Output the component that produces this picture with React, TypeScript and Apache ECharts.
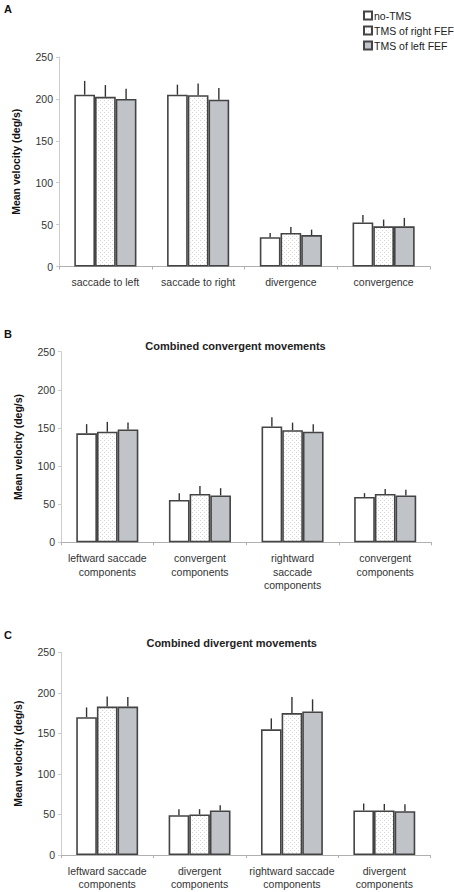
import React, { useEffect, useRef } from "react";
import * as echarts from "echarts";

const seriesNames = ["no-TMS", "TMS of right FEF", "TMS of left FEF"];

const categoriesA = ["saccade to left", "saccade to right", "divergence", "convergence"];
const noTmsA = [205, 205, 35, 52.5];
const rightFefA = [202.5, 204.5, 40, 48];
const leftFefA = [200, 199, 37.5, 48];
const noTmsErrA = [16.5, 12, 5, 9];
const rightFefErrA = [14, 14, 7, 8];
const leftFefErrA = [12, 14, 6.5, 10];

const categoriesB = ["leftward saccade\ncomponents", "convergent\ncomponents", "rightward\nsaccade\ncomponents", "convergent\ncomponents"];
const noTmsB = [143, 55.5, 152, 59.5];
const rightFefB = [145, 63.5, 147, 63.5];
const leftFefB = [148, 61.5, 145, 61.5];
const noTmsErrB = [12, 9, 12, 5];
const rightFefErrB = [13, 10.5, 10, 6.5];
const leftFefErrB = [9, 9.5, 10, 7.5];

const categoriesC = ["leftward saccade\ncomponents", "divergent\ncomponents", "rightward saccade\ncomponents", "divergent\ncomponents"];
const noTmsC = [170, 49, 155, 55];
const rightFefC = [183, 50, 175, 55];
const leftFefC = [183, 55, 177, 54];
const noTmsErrC = [12, 7.5, 13.5, 8.5];
const rightFefErrC = [12.5, 6.5, 20, 8];
const leftFefErrC = [12, 6.5, 15, 8.5];

const yTicks = { min: 0, max: 250, interval: 50 };
const yAxisName = "Mean velocity (deg/s)";
const panelTitles = ["", "Combined convergent movements", "Combined divergent movements"];
const panelLetters = ["A", "B", "C"];

const FONT = "'Liberation Sans', Arial, sans-serif";

export default function App() {
  const ref = useRef<HTMLDivElement>(null);
  useEffect(() => {
    if (!ref.current) return;
    const chart = echarts.init(ref.current, undefined, { renderer: "svg" });

    const cv = document.createElement("canvas");
    cv.width = 4;
    cv.height = 4;
    const ctx = cv.getContext("2d")!;
    ctx.fillStyle = "#ffffff";
    ctx.fillRect(0, 0, 4, 4);
    ctx.fillStyle = "#d6d6d6";
    ctx.fillRect(0, 0, 1, 1);
    ctx.fillRect(2, 2, 1, 1);
    const dotted: any = { image: cv, repeat: "repeat" };

    const fills = ["#ffffff", dotted, "#c0c3c8"];

    const panels = [
      { cats: categoriesA, vals: [noTmsA, rightFefA, leftFefA], errs: [noTmsErrA, rightFefErrA, leftFefErrA] },
      { cats: categoriesB, vals: [noTmsB, rightFefB, leftFefB], errs: [noTmsErrB, rightFefErrB, leftFefErrB] },
      { cats: categoriesC, vals: [noTmsC, rightFefC, leftFefC], errs: [noTmsErrC, rightFefErrC, leftFefErrC] },
    ];

    const grids = [
      { left: 59, top: 57, width: 371, height: 209.5 },
      { left: 61, top: 351.7, width: 370.5, height: 190.6 },
      { left: 61, top: 652.3, width: 369.5, height: 202.7 },
    ];

    const xAxis = panels.map((p, i) => ({
      type: "category",
      gridIndex: i,
      data: p.cats,
      axisLine: { lineStyle: { color: "#b0b0b0", width: 1 } },
      axisTick: { show: true, length: 3, lineStyle: { color: "#b0b0b0" } },
      axisLabel: { interval: 0, fontSize: 10.5, color: "#333", margin: 9, lineHeight: 13.5, fontFamily: FONT },
    }));

    const yAxis = panels.map((p, i) => ({
      type: "value",
      gridIndex: i,
      min: yTicks.min,
      max: yTicks.max,
      interval: yTicks.interval,
      splitLine: { show: false },
      axisLine: { show: true, lineStyle: { color: "#cccccc" } },
      axisTick: { show: true, length: 3, lineStyle: { color: "#cccccc" } },
      axisLabel: { fontSize: 10.5, color: "#333", margin: 6, fontFamily: FONT },
      name: yAxisName,
      nameLocation: "middle",
      nameRotate: 90,
      nameGap: 38,
      nameTextStyle: { fontSize: 10.5, fontWeight: "bold", color: "#111", fontFamily: FONT },
    }));

    const series: any[] = [];
    panels.forEach((p, i) => {
      p.vals.forEach((vals, s) => {
        series.push({
          type: "bar",
          name: seriesNames[s],
          xAxisIndex: i,
          yAxisIndex: i,
          data: vals,
          barGap: "0%",
          barCategoryGap: "33%",
          itemStyle: { color: fills[s], borderColor: "#444", borderWidth: 1.6 },
        });
      });
      const errData: number[][] = [];
      p.vals.forEach((vals, s) => {
        vals.forEach((v, c) => {
          errData.push([c, s, v, v + p.errs[s][c]]);
        });
      });
      series.push({
        type: "custom",
        xAxisIndex: i,
        yAxisIndex: i,
        data: errData,
        encode: { x: 0, y: [2, 3] },
        z: 5,
        renderItem: (params: any, api: any) => {
          const cat = api.value(0);
          const s = api.value(1);
          const v = api.value(2);
          const t = api.value(3);
          const p0 = api.coord([cat, v]);
          const p1 = api.coord([cat, t]);
          const band = api.size([1, 0])[0];
          const bw = (band * 0.67) / 3;
          const x = p0[0] + (s - 1) * bw;
          return {
            type: "line",
            shape: { x1: x, y1: p0[1], x2: x, y2: p1[1] },
            style: { stroke: "#333", lineWidth: 1.4 },
          };
        },
      });
    });

    const letterY = [9, 334, 635];
    const graphic: any[] = panelLetters.map((l, i) => ({
      type: "text",
      left: 4,
      top: letterY[i] - 6,
      style: { text: l, font: `bold 11px ${FONT}`, fill: "#111" },
    }));
    const titlePos = [
      [0, 0],
      [235.5, 346],
      [231.7, 642.7],
    ];
    panelTitles.forEach((t, i) => {
      if (!t) return;
      graphic.push({
        type: "text",
        x: titlePos[i][0],
        y: titlePos[i][1],
        style: { text: t, font: `bold 11px ${FONT}`, fill: "#222", align: "center", verticalAlign: "middle" },
      });
    });

    chart.setOption({
      animation: false,
      textStyle: { fontFamily: FONT },
      grid: grids,
      xAxis,
      yAxis,
      legend: {
        data: seriesNames,
        orient: "vertical",
        left: 358,
        top: 5,
        icon: "rect",
        itemWidth: 8,
        itemHeight: 8,
        itemGap: 4,
        selectedMode: false,
        textStyle: { fontSize: 10.5, color: "#222", padding: [0, 0, 0, -3] },
      },
      graphic,
      series,
    });

    return () => chart.dispose();
  }, []);
  return <div ref={ref} style={{ position: "absolute", left: 0, top: 0, width: 454, height: 892 }} />;
}
